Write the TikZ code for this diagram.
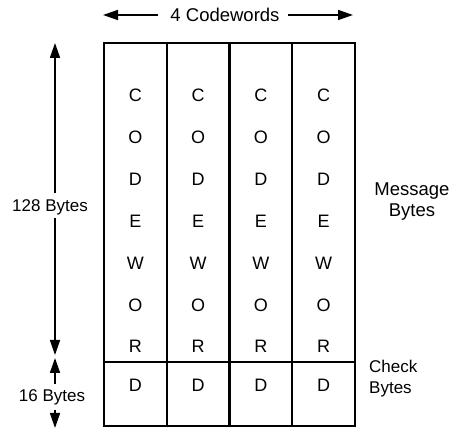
\documentclass[tikz,border=0pt]{standalone}
\usepackage{fontspec}
\setmainfont{Liberation Sans}
\usetikzlibrary{arrows.meta}
\begin{document}
\begin{tikzpicture}[x=1pt,y=-1pt,
  lbl/.style={font=\fontsize{17}{20}\selectfont, inner sep=0pt},
  biglbl/.style={font=\fontsize{18.5}{21}\selectfont, inner sep=0pt},
  let/.style={font=\fontsize{18}{20}\selectfont, inner sep=0pt},
  msgcell/.style={draw, line width=2pt, minimum width=62.75pt, minimum height=319pt, inner sep=0pt, outer sep=0pt},
  chkcell/.style={draw, line width=2pt, minimum width=62.75pt, minimum height=64pt, inner sep=0pt, outer sep=0pt},
  dim/.style={line width=1.5pt, -{Triangle[length=15pt,width=10pt]}}]
\useasboundingbox (0,0) rectangle (464,430);
% cells
\foreach \i/\x in {1/135.4,2/198.1,3/260.9,4/323.6}{
  \node[msgcell] (m\i) at (\x,202.5) {};
  \node[chkcell] (k\i) at (\x,394) {};
  \foreach \l/\y [count=\j] in {C/95,O/137,D/179,E/221,W/263,O/305,R/346}{
    \node[let] (t\i\j) at (\x,\y) {\l};
  }
  \node[let] (d\i) at (\x,385) {D};
}
% top dimension
\node[biglbl] (cw) at (225,15) {4 Codewords};
\coordinate (cwl) at (103,15);
\coordinate (cwr) at (353,15);
\draw[dim] ([xshift=-12pt]cw.west) -- (cwl);
\draw[dim] ([xshift=8pt]cw.east) -- (cwr);
% left dimensions
\node[lbl] (b128) at (50,207) {128 Bytes};
\coordinate (a1) at (55,43);
\coordinate (a2) at (55,355);
\draw[dim] (55,193) -- (a1);
\draw[dim] (55,218) -- (a2);
\node[lbl] (b16) at (52,397) {16 Bytes};
\coordinate (a3) at (55,358);
\coordinate (a4) at (55,428);
\draw[dim] (55,384) -- (a3);
\draw[dim] (55,410) -- (a4);
% right labels
\node[biglbl, align=center] (mb) at (412,202) {Message\\[0pt]Bytes};
\node[lbl, align=left, anchor=west] (cb) at (369,379) {Check\\[1pt]Bytes};
\end{tikzpicture}
\end{document}
